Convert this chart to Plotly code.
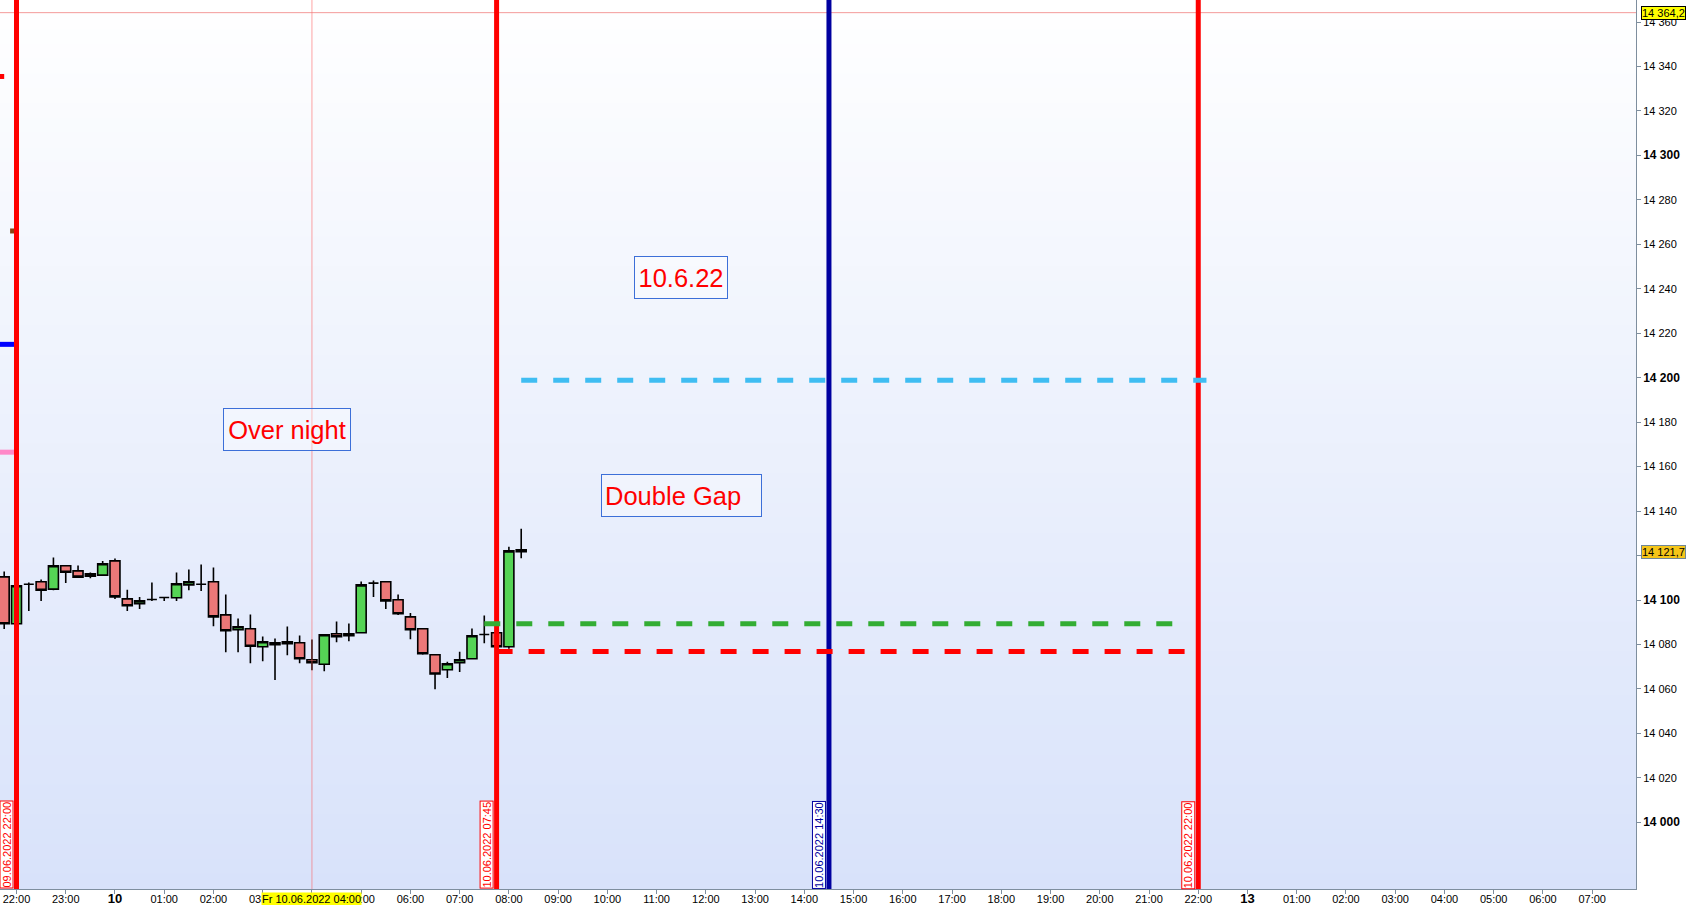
import pandas as pd
import plotly.graph_objects as go

# ---------------- data ----------------
BASE = pd.Timestamp("2022-06-09 22:00")
candle_times = pd.date_range("2022-06-09 21:45", "2022-06-10 08:15", freq="15min")

opens = [14110.4, 14089.3, 14107.1, 14108.2, 14104.9, 14115.4, 14113.1, 14110.7, 14111.2, 14117.6,
         14100.5, 14098.3, 14100.2, 14101.1, 14101.0, 14106.8, 14107.1, 14108.2, 14093.3, 14086.6,
         14087.1, 14079.0, 14080.8, 14080.3, 14080.8, 14073.1, 14071.1, 14084.8, 14083.9, 14085.3,
         14107.6, 14108.2, 14100.1, 14092.4, 14087.1, 14075.4, 14068.6, 14071.8, 14073.6, 14084.5,
         14085.3, 14079.0, 14122.6]
highs = [14112.8, 14106.6, 14107.9, 14109.2, 14119.1, 14115.6, 14115.5, 14112.4, 14117.6, 14118.7,
         14104.6, 14101.4, 14107.9, 14101.4, 14112.4, 14113.7, 14116.0, 14114.6, 14102.5, 14091.7,
         14093.5, 14083.6, 14082.7, 14088.1, 14084.0, 14082.2, 14084.4, 14090.3, 14089.4, 14108.3,
         14108.8, 14108.6, 14102.5, 14094.2, 14087.1, 14075.4, 14072.2, 14076.7, 14087.2, 14093.0,
         14085.3, 14123.9, 14132.1]
lows = [14086.9, 14089.0, 14095.0, 14099.5, 14104.4, 14107.6, 14110.3, 14109.8, 14111.0, 14100.4,
        14095.0, 14095.9, 14099.6, 14099.5, 14099.5, 14104.4, 14104.0, 14088.2, 14076.5, 14076.5,
        14071.6, 14072.5, 14064.0, 14075.2, 14071.6, 14068.4, 14068.0, 14081.0, 14081.5, 14085.3,
        14101.3, 14095.9, 14093.2, 14082.4, 14075.4, 14059.9, 14064.9, 14067.6, 14073.6, 14080.6,
        14079.0, 14078.1, 14118.8]
closes = [14089.3, 14106.4, 14107.1, 14104.4, 14115.4, 14112.5, 14110.3, 14111.8, 14116.3, 14101.4,
          14097.4, 14099.6, 14100.2, 14101.1, 14107.3, 14108.2, 14107.1, 14092.4, 14086.2, 14088.0,
          14079.2, 14081.2, 14079.9, 14081.2, 14073.6, 14071.8, 14084.4, 14083.5, 14084.8, 14106.8,
          14107.6, 14099.6, 14093.8, 14086.6, 14075.8, 14066.7, 14071.3, 14073.1, 14083.9, 14084.5,
          14079.0, 14122.1, 14121.7]

# vertical event lines
vline_labels = ["09.06.2022 22:00", "10.06.2022 07:45", "10.06.2022 14:30", "10.06.2022 22:00"]
vline_times = ["2022-06-09 22:00", "2022-06-10 07:45", "2022-06-10 14:30", "2022-06-10 22:00"]
vline_colors = ["#FF0000", "#FF0000", "#0000A0", "#FF0000"]

# horizontal dashed levels
level_values = [14198.8, 14089.3, 14076.8]
level_starts = ["2022-06-10 08:15", "2022-06-10 07:30", "2022-06-10 07:45"]
level_ends = ["2022-06-10 22:10", "2022-06-10 21:30", "2022-06-10 21:45"]
level_colors = ["#3FBDF2", "#33AD33", "#FF0000"]

# small level markers at left edge (start/end in hours relative to 09.06 22:00)
marker_levels = [14335.5, 14266.0, 14215.0, 14166.5]
marker_x0 = [-0.335, -0.13, -0.335, -0.335]
marker_x1 = [-0.25, -0.01, -0.01, -0.01]
marker_colors = ["#FF0000", "#8B4513", "#0000FF", "#FF88C8"]

# text boxes
note_texts = ["10.6.22", "Over night", "Double Gap"]
note_times = ["2022-06-10 11:30", "2022-06-10 03:30", "2022-06-10 11:30"]
note_values = [14245.2, 14176.9, 14147.2]
note_aligns = ["center", "center", "left"]

crosshair_time = "2022-06-10 04:00"
crosshair_label = "Fr 10.06.2022 04:00"
top_line_value = 14364.2
top_line_label = "14 364,2"
last_value = 14121.7
last_label = "14 121,7"

# x-axis ticks (trading-hour axis: weekend collapsed after Fri 22:00)
xtick_labels = ["22:00", "23:00", "10", "01:00", "02:00", "03:00", "04:00", "05:00", "06:00",
                "07:00", "08:00", "09:00", "10:00", "11:00", "12:00", "13:00", "14:00", "15:00",
                "16:00", "17:00", "18:00", "19:00", "20:00", "21:00", "22:00", "13", "01:00",
                "02:00", "03:00", "04:00", "05:00", "06:00", "07:00"]
ytick_values = list(range(14000, 14361, 20))


def hx(t):
    return (pd.Timestamp(t) - BASE).total_seconds() / 3600.0


cx = [hx(t) for t in candle_times]

X_RANGE = [-0.335, 32.89]
Y_RANGE = [13970.0, 14369.9]

fig = go.Figure()

fig.add_trace(go.Candlestick(
    x=cx, open=opens, high=highs, low=lows, close=closes,
    increasing=dict(fillcolor="#55D455", line=dict(color="#000000", width=1.6)),
    decreasing=dict(fillcolor="#EC7878", line=dict(color="#000000", width=1.6)),
    whiskerwidth=0, showlegend=False, hoverinfo="skip",
))

shapes = []
# gradient background
N = 60
top_rgb = (255, 255, 255)
bot_rgb = (216, 226, 250)
for i in range(N):
    f = (i + 0.5) / N
    r = round(top_rgb[0] + (bot_rgb[0] - top_rgb[0]) * f)
    g = round(top_rgb[1] + (bot_rgb[1] - top_rgb[1]) * f)
    b = round(top_rgb[2] + (bot_rgb[2] - top_rgb[2]) * f)
    shapes.append(dict(type="rect", xref="paper", yref="paper", x0=0, x1=1,
                       y0=1 - (i + 1) / N, y1=1 - i / N + 0.001, layer="below",
                       line=dict(width=0), fillcolor=f"rgb({r},{g},{b})"))

# crosshair + top price line
shapes.append(dict(type="line", xref="x", yref="paper", x0=hx(crosshair_time), x1=hx(crosshair_time),
                   y0=0, y1=1, layer="above", line=dict(color="rgba(255,90,90,0.55)", width=1)))
shapes.append(dict(type="line", xref="paper", yref="y", x0=0, x1=1, y0=top_line_value,
                   y1=top_line_value, layer="above", line=dict(color="rgba(240,120,120,0.75)", width=1)))

# left-edge level markers
for lv, a, b_, col in zip(marker_levels, marker_x0, marker_x1, marker_colors):
    shapes.append(dict(type="line", xref="x", yref="y", x0=a, x1=b_, y0=lv, y1=lv,
                       layer="above", line=dict(color=col, width=5)))

# vertical event lines
for t, col in zip(vline_times, vline_colors):
    shapes.append(dict(type="line", xref="x", yref="paper", x0=hx(t), x1=hx(t), y0=0, y1=1,
                       layer="above", line=dict(color=col, width=5)))

# dashed levels
for lv, s, e, col in zip(level_values, level_starts, level_ends, level_colors):
    shapes.append(dict(type="line", xref="x", yref="y", x0=hx(s), x1=hx(e), y0=lv, y1=lv,
                       layer="above", line=dict(color=col, width=5, dash="16px,16px")))

annotations = []
note_w = [86, 120, 153]
for txt, t, v, al, w in zip(note_texts, note_times, note_values, note_aligns, note_w):
    annotations.append(dict(x=hx(t), y=v, xref="x", yref="y", text=txt, showarrow=False,
                            font=dict(family="Liberation Sans, Arial", size=25.5, color="#FF0000"),
                            bgcolor="rgba(255,255,255,0.35)", bordercolor="#3C6FD8",
                            borderwidth=1, borderpad=3, width=w, height=35, align=al))

for lab, t, col in zip(vline_labels, vline_times, vline_colors):
    annotations.append(dict(x=hx(t), y=0, xref="x", yref="paper", text=lab, showarrow=False,
                            textangle=-90, xanchor="right", yanchor="bottom", xshift=-3,
                            font=dict(family="Liberation Sans, Arial", size=11, color=col),
                            bgcolor="#FFFFFF", bordercolor=col, borderwidth=1, borderpad=0))

annotations.append(dict(x=hx(crosshair_time), y=0, xref="x", yref="paper", text=crosshair_label,
                        showarrow=False, yanchor="top", yshift=-3,
                        font=dict(family="Liberation Sans Narrow, Arial Narrow, Liberation Sans", size=11,
                                  color="#000000"),
                        bgcolor="#FFFF00", borderpad=0))
annotations.append(dict(x=1, y=top_line_value, xref="paper", yref="y", text=top_line_label,
                        showarrow=False, xanchor="left", xshift=5,
                        font=dict(family="Liberation Sans, Arial", size=11, color="#000000"),
                        bgcolor="#FFFF00", bordercolor="#000000", borderwidth=1, borderpad=0))
annotations.append(dict(x=1, y=last_value, xref="paper", yref="y", text=last_label,
                        showarrow=False, xanchor="left", xshift=5,
                        font=dict(family="Liberation Sans, Arial", size=11, color="#000000"),
                        bgcolor="#F5C518", bordercolor="#6F8797", borderwidth=1, borderpad=0))

xt_text = []
for lab in xtick_labels:
    if ":" in lab:
        xt_text.append(lab)
    else:
        xt_text.append(f"<b><span style='font-size:13px'>{lab}</span></b>")

yt_text = []
for v in ytick_values:
    s = f"{v // 1000} {v % 1000:03d}"
    if v % 100 == 0:
        yt_text.append(f"<b><span style='font-size:12px'>{s}</span></b>")
    else:
        yt_text.append(s)

fig.update_layout(
    width=1688, height=905,
    margin=dict(l=0, r=52, t=0, b=16, autoexpand=False),
    paper_bgcolor="#FFFFFF", plot_bgcolor="rgba(0,0,0,0)",
    shapes=shapes, annotations=annotations,
    boxgap=0.19, boxgroupgap=0,
    showlegend=False,
    font=dict(family="Liberation Sans, Arial", size=11, color="#000000"),
)
fig.update_xaxes(range=X_RANGE, tickmode="array", tickvals=list(range(len(xtick_labels))),
                 ticktext=xt_text, ticks="outside", ticklen=4, tickcolor="#7E8E9E",
                 showgrid=False, zeroline=False, showline=True, linecolor="#7E8E9E", linewidth=1,
                 rangeslider=dict(visible=False), automargin=False, ticklabelstandoff=-4,
                 tickfont=dict(family="Liberation Sans Narrow, Arial Narrow, Liberation Sans", size=11))
fig.update_yaxes(range=Y_RANGE, side="right", tickmode="array", tickvals=ytick_values,
                 ticktext=yt_text, ticks="outside", ticklen=4, tickcolor="#7E8E9E",
                 showgrid=False, zeroline=False, showline=True, linecolor="#7E8E9E", linewidth=1,
                 automargin=False,
                 tickfont=dict(family="Liberation Sans, Arial", size=11))

fig.write_html("out.html", config={"displayModeBar": False},
               post_script="document.body.style.margin='0';document.body.style.padding='0';"
                           "document.body.style.overflow='hidden';")
